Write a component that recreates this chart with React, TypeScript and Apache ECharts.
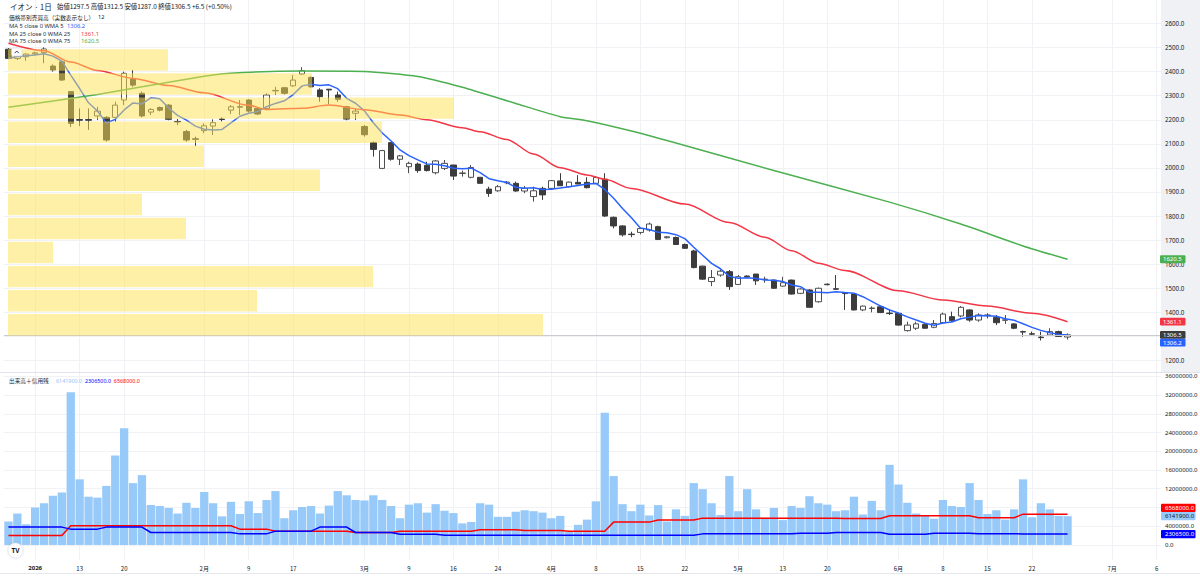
import React, { useEffect, useRef } from "react";
import * as echarts from "echarts";

// ---------- categories ----------
const tradingDates = [
  "2025-12-26", "2025-12-29", "2025-12-30",
  "2026-01-05", "2026-01-06", "2026-01-07", "2026-01-08", "2026-01-09", "2026-01-13", "2026-01-14", "2026-01-15", "2026-01-16",
  "2026-01-19", "2026-01-20", "2026-01-21", "2026-01-22", "2026-01-23", "2026-01-26", "2026-01-27", "2026-01-28", "2026-01-29", "2026-01-30",
  "2026-02-02", "2026-02-03", "2026-02-04", "2026-02-05", "2026-02-06", "2026-02-09", "2026-02-10", "2026-02-12", "2026-02-13",
  "2026-02-16", "2026-02-17", "2026-02-18", "2026-02-19", "2026-02-20", "2026-02-24", "2026-02-25", "2026-02-26", "2026-02-27",
  "2026-03-02", "2026-03-03", "2026-03-04", "2026-03-05", "2026-03-06", "2026-03-09", "2026-03-10", "2026-03-11", "2026-03-12", "2026-03-13",
  "2026-03-16", "2026-03-17", "2026-03-18", "2026-03-19", "2026-03-23", "2026-03-24", "2026-03-25", "2026-03-26", "2026-03-27", "2026-03-30", "2026-03-31",
  "2026-04-01", "2026-04-02", "2026-04-03", "2026-04-06", "2026-04-07", "2026-04-08", "2026-04-09", "2026-04-10", "2026-04-13", "2026-04-14",
  "2026-04-15", "2026-04-16", "2026-04-17", "2026-04-20", "2026-04-21", "2026-04-22", "2026-04-23", "2026-04-24", "2026-04-27", "2026-04-28", "2026-04-30",
  "2026-05-01", "2026-05-07", "2026-05-08", "2026-05-11", "2026-05-12", "2026-05-13", "2026-05-14", "2026-05-15", "2026-05-18", "2026-05-19",
  "2026-05-20", "2026-05-21", "2026-05-22", "2026-05-25", "2026-05-26", "2026-05-27", "2026-05-28", "2026-05-29",
  "2026-06-01", "2026-06-02", "2026-06-03", "2026-06-04", "2026-06-05", "2026-06-08", "2026-06-09", "2026-06-10", "2026-06-11", "2026-06-12",
  "2026-06-15", "2026-06-16", "2026-06-17", "2026-06-18", "2026-06-19", "2026-06-22", "2026-06-23", "2026-06-24", "2026-06-25", "2026-06-26",
];
const futureDates = [
  "2026-06-27", "2026-06-28", "2026-06-29", "2026-06-30", "2026-07-01",
  "2026-07-02", "2026-07-03", "2026-07-04", "2026-07-05", "2026-07-06",
];
const dates = tradingDates.concat(futureDates);

const tickDates = [
  "2026-01-05", "2026-01-13", "2026-01-20", "2026-02-02", "2026-02-09", "2026-02-17",
  "2026-03-02", "2026-03-09", "2026-03-16", "2026-03-24", "2026-04-01", "2026-04-08",
  "2026-04-15", "2026-04-22", "2026-05-01", "2026-05-13", "2026-05-20", "2026-06-01",
  "2026-06-08", "2026-06-15", "2026-06-22", "2026-07-01", "2026-07-06",
];
const tickTexts = [
  "2026", "13", "20", "2月", "9", "17", "3月", "9", "16", "24", "4月", "8",
  "15", "22", "5月", "13", "20", "6月", "8", "15", "22", "7月", "6",
];

// ---------- price series ----------
const opens = [
  2493, 2455, 2462, 2474, 2479, 2423, 2441, 2317, 2201, 2201,
  2216, 2210, 2210, 2282, 2369, 2310, 2232, 2251, 2261, 2193,
  2151, 2121, 2155, 2174, 2203, 2240, 2252, 2282, 2247, 2247,
  2320, 2333, 2341, 2390, 2376, 2324, 2327, 2303, 2254, 2227,
  2172, 2105, 1998, 2105, 2036, 2005, 2016, 2011, 1980, 1998,
  2012, 1977, 1961, 1961, 1912, 1905, 1938, 1936, 1904, 1881,
  1915, 1915, 1946, 1922, 1940, 1940, 1936, 1953, 1795, 1759,
  1725, 1732, 1742, 1756, 1710, 1711, 1682, 1655, 1592, 1528,
  1555, 1569, 1516, 1551, 1559, 1536, 1534, 1509, 1534, 1479,
  1493, 1444, 1517, 1498, 1479, 1476, 1410, 1416, 1423, 1397,
  1396, 1324, 1334, 1350, 1338, 1357, 1382, 1385, 1410, 1368,
  1389, 1379, 1367, 1352, 1320, 1311, 1297, 1306, 1320, 1297.5,
];
const highs = [
  2498, 2480, 2476, 2483, 2501, 2430, 2445, 2320, 2247, 2247,
  2254, 2215, 2275, 2400, 2407, 2317, 2248, 2255, 2265, 2203,
  2158, 2130, 2185, 2202, 2210, 2261, 2282, 2285, 2252, 2310,
  2337, 2337, 2386, 2418, 2380, 2331, 2328, 2317, 2258, 2247,
  2178, 2110, 2075, 2108, 2054, 2026, 2022, 2026, 2033, 2033,
  2013, 1989, 2012, 1962, 1922, 1929, 1946, 1943, 1925, 1922,
  1922, 1950, 1978, 1943, 1970, 1961, 1963, 1978, 1798, 1762,
  1735, 1752, 1773, 1760, 1717, 1715, 1686, 1660, 1594, 1576,
  1578, 1576, 1555, 1553, 1559, 1548, 1536, 1548, 1536, 1500,
  1496, 1503, 1520, 1555, 1480, 1478, 1428, 1425, 1428, 1413,
  1398, 1361, 1361, 1354, 1368, 1399, 1403, 1426, 1413, 1396,
  1396, 1389, 1389, 1355, 1324, 1320, 1320, 1334, 1324, 1312.5,
];
const lows = [
  2452, 2448, 2445, 2468, 2435, 2400, 2362, 2170, 2174, 2158,
  2199, 2110, 2192, 2261, 2337, 2210, 2220, 2235, 2198, 2178,
  2109, 2091, 2144, 2137, 2193, 2224, 2220, 2230, 2220, 2240,
  2303, 2305, 2337, 2386, 2333, 2275, 2265, 2275, 2198, 2199,
  2130, 2047, 1995, 2030, 2012, 1978, 1980, 1985, 1973, 1991,
  1950, 1964, 1957, 1935, 1880, 1901, 1932, 1901, 1895, 1860,
  1867, 1911, 1925, 1919, 1933, 1915, 1933, 1797, 1749, 1715,
  1712, 1724, 1735, 1700, 1707, 1680, 1664, 1583, 1535, 1509,
  1548, 1493, 1514, 1545, 1514, 1523, 1498, 1507, 1474, 1476,
  1420, 1440, 1512, 1493, 1410, 1408, 1405, 1400, 1397, 1389,
  1345, 1320, 1327, 1333, 1334, 1352, 1361, 1379, 1361, 1361,
  1375, 1347, 1352, 1330, 1299, 1302, 1283, 1302, 1298, 1287,
];
const closes = [
  2455, 2470, 2473, 2478, 2494, 2407, 2365, 2185, 2198, 2198,
  2236, 2116, 2261, 2393, 2344, 2216, 2243, 2240, 2202, 2191,
  2116, 2119, 2175, 2188, 2201, 2254, 2255, 2236, 2224, 2303,
  2322, 2310, 2365, 2404, 2337, 2296, 2324, 2285, 2203, 2236,
  2138, 2077, 2072, 2036, 2050, 2019, 1989, 1989, 2029, 2019,
  1966, 1979, 2002, 1936, 1894, 1922, 1941, 1904, 1915, 1905,
  1888, 1947, 1926, 1941, 1933, 1918, 1960, 1800, 1759, 1722,
  1723, 1748, 1767, 1703, 1714, 1682, 1666, 1586, 1538, 1545,
  1571, 1507, 1548, 1548, 1531, 1538, 1500, 1523, 1476, 1497,
  1421, 1500, 1515, 1496, 1478, 1410, 1426, 1418, 1399, 1395,
  1347, 1347, 1352, 1334, 1354, 1393, 1365, 1421, 1368, 1389,
  1386, 1357, 1369, 1334, 1318, 1309.5, 1295, 1320, 1300, 1306.5,
];

// MA25 / MA75 at these bar indexes
const ma25Idx = [0, 4, 7, 10, 14, 18, 22, 27, 29, 33, 36, 40, 44, 47, 51, 53, 56, 59, 62, 65, 67, 70, 76, 81, 85, 88, 91, 94, 100, 105, 110, 115, 119];
const ma25Val = [2518, 2487, 2440, 2405, 2372, 2342, 2312, 2260, 2243, 2248, 2261, 2242, 2220, 2200, 2167, 2150, 2118, 2058, 2001, 1971, 1953, 1915, 1850, 1773, 1712, 1656, 1604, 1574, 1490, 1451, 1426, 1396, 1361.1];
const ma75Idx = [0, 10, 21, 25, 33, 40, 46, 51, 57, 62, 65, 70, 76, 86, 99, 107, 114, 119];
const ma75Val = [2252, 2305, 2375, 2393, 2403, 2401, 2380, 2335, 2268, 2213, 2196, 2153, 2093, 1989, 1858, 1767, 1676, 1620.5];

// volume profile (価格帯別売買高), 12 rows, volume in millions
const profileEdges = [2493, 2393, 2293, 2193, 2093, 1993, 1893, 1793, 1693, 1593, 1493, 1393, 1293];
const profileVolume = [16.0, 30.4, 44.6, 37.4, 19.6, 31.2, 13.4, 17.8, 4.5, 36.5, 24.9, 53.5];

// ---------- volume pane (millions) ----------
const volumes = [
  5.0, 6.7, 4.4, 8.0, 8.9, 10.5, 11.2, 32.6, 14.0, 10.3,
  10.1, 12.6, 19.1, 24.9, 13.2, 14.9, 8.5, 8.3, 7.9, 6.7,
  9.0, 7.9, 11.3, 8.9, 6.1, 9.2, 6.6, 9.3, 6.8, 9.6,
  11.5, 5.7, 7.4, 8.1, 8.3, 6.7, 8.4, 11.5, 10.6, 9.6,
  9.5, 10.6, 9.6, 8.3, 5.7, 8.6, 8.9, 6.9, 8.7, 7.3,
  6.8, 4.6, 4.9, 8.9, 8.6, 6.0, 6.0, 7.1, 7.4, 7.2,
  6.9, 5.7, 6.2, 2.8, 4.3, 5.4, 9.3, 28.2, 14.7, 8.7,
  7.2, 8.6, 6.3, 8.5, 5.0, 7.6, 6.2, 13.2, 11.9, 8.9,
  6.4, 14.7, 7.2, 11.9, 7.6, 5.8, 7.9, 5.3, 8.3, 7.9,
  10.4, 8.9, 8.6, 7.2, 7.4, 10.3, 6.5, 9.4, 7.4, 17.1,
  12.9, 9.0, 6.7, 6.2, 5.6, 9.6, 8.3, 8.1, 13.2, 9.6,
  6.6, 7.4, 5.4, 7.6, 14.0, 5.9, 8.9, 7.6, 6.2, 6.1419,
];
// 信用買残 (red)
const marginBuy = [
  2.0, 2.0, 2.0, 2.0, 2.0, 2.0, 2.0, 4.08, 4.08, 4.08,
  4.08, 4.08, 4.08, 4.08, 4.08, 4.08, 4.08, 4.08, 4.08, 4.08,
  4.08, 4.08, 4.08, 4.08, 4.08, 4.08, 3.37, 3.37, 3.37, 3.37,
  2.94, 2.94, 2.94, 2.94, 2.94, 2.94, 2.94, 2.94, 2.94, 2.65,
  2.65, 2.65, 2.65, 2.65, 2.94, 2.94, 2.94, 2.94, 2.94, 2.94,
  2.94, 2.94, 2.94, 3.22, 3.22, 3.22, 3.22, 3.22, 3.08, 3.08,
  3.08, 3.08, 3.08, 2.94, 2.94, 2.94, 2.94, 2.94, 4.87, 4.87,
  4.87, 4.87, 4.87, 5.3, 5.3, 5.3, 5.3, 5.3, 5.72, 5.72,
  5.72, 5.72, 5.72, 5.72, 5.72, 5.72, 5.72, 5.72, 5.72, 5.72,
  5.72, 5.72, 5.72, 5.72, 5.65, 5.65, 5.65, 5.65, 5.65, 6.23,
  6.23, 6.23, 6.23, 6.23, 6.23, 6.23, 6.23, 6.23, 6.23, 5.8,
  5.8, 5.8, 5.8, 5.8, 6.568, 6.568, 6.568, 6.568, 6.568, 6.568,
];
// 信用売残 (blue)
const marginSell = [
  3.8, 3.8, 3.8, 3.8, 3.8, 3.8, 3.8, 3.37, 3.37, 3.37,
  3.37, 3.8, 3.8, 3.8, 3.8, 3.8, 2.65, 2.65, 2.65, 2.65,
  2.65, 2.65, 2.65, 2.65, 2.65, 2.65, 2.36, 2.36, 2.36, 2.36,
  2.94, 2.94, 2.94, 2.94, 2.94, 3.8, 3.8, 3.8, 3.8, 2.65,
  2.65, 2.65, 2.65, 2.65, 2.3, 2.3, 2.3, 2.3, 2.3, 2.08,
  2.08, 2.08, 2.08, 2.08, 2.08, 2.08, 2.08, 2.08, 2.08, 2.08,
  2.08, 2.08, 2.08, 2.08, 2.08, 2.08, 2.08, 2.08, 2.08, 2.08,
  2.08, 2.08, 2.08, 2.08, 2.08, 2.08, 2.08, 2.08, 2.36, 2.36,
  2.36, 2.36, 2.36, 2.36, 2.36, 2.36, 2.36, 2.36, 2.36, 2.5,
  2.5, 2.5, 2.5, 2.65, 2.65, 2.65, 2.65, 2.65, 2.65, 2.3,
  2.3, 2.3, 2.3, 2.3, 2.5, 2.5, 2.5, 2.5, 2.5, 2.4,
  2.4, 2.4, 2.4, 2.4, 2.3065, 2.3065, 2.3065, 2.3065, 2.3065, 2.3065,
];

// price grid lines every 100; the 1300 label sits under the last-price tags, so it is not printed
const priceGridValues = [1200, 1300, 1400, 1500, 1600, 1700, 1800, 1900, 2000, 2100, 2200, 2300, 2400, 2500, 2600];
const priceLabelValues = [1200, 1400, 1500, 1600, 1700, 1800, 1900, 2000, 2100, 2200, 2300, 2400, 2500, 2600];
const volumeTicks = [0, 4, 8, 12, 16, 20, 24, 28, 32, 36];

// ---------- styling ----------
const FONT = '"Noto Sans", "Noto Sans CJK JP", sans-serif';
const CJK = '"Noto Sans CJK JP", "Noto Sans", sans-serif';
const TXT = "#131722";
const GRIDLINE = "#f0f2f6";
const C_UP_BORDER = "#4e4e4e";
const C_DOWN = "#3c3c3c";
const C_MA5 = "#2962ff";
const C_MA25 = "#f23645";
const C_MA75 = "#4caf50";
const C_VOL = "#97c9f9";
const C_BUY = "#ff0000";
const C_SELL = "#0000ff";

const PRICE_MIN = 1152.2;
const PRICE_MAX = 2697.6;
const VOL_MIN = -3.22;
const VOL_MAX = 36.71;

const tickSet: Record<string, string> = {};
tickDates.forEach((d, k) => (tickSet[d] = tickTexts[k]));
const isTick = (_i: number, v: string) => tickSet[v] !== undefined;

const ma5 = closes.map((_, i) => {
  const s = closes.slice(Math.max(0, i - 4), i + 1);
  return +(s.reduce((a, b) => a + b, 0) / s.length).toFixed(2);
});

function buildOption(): any {
  const n = tradingDates.length;
  const last = n - 1;
  return {
    animation: false,
    backgroundColor: "#ffffff",
    textStyle: { fontFamily: FONT },
    grid: [
      { left: 4, top: 0, width: 1157, height: 372, outerBoundsMode: "none" },
      { left: 4, top: 373, width: 1157, height: 187, outerBoundsMode: "none" },
      { left: 8, top: 0, width: 1153, height: 372, outerBoundsMode: "none" },
    ],
    xAxis: [
      {
        type: "category", gridIndex: 0, data: dates, boundaryGap: true,
        axisLine: { show: false }, axisTick: { show: false }, axisLabel: { show: false },
        splitLine: { show: true, interval: isTick, alignWithLabel: true, lineStyle: { color: GRIDLINE, width: 1 } },
      },
      {
        type: "category", gridIndex: 1, data: dates, boundaryGap: true,
        axisLine: { show: false }, axisTick: { show: false },
        axisLabel: {
          show: true, interval: isTick, margin: 5, fontSize: 6, color: TXT, fontFamily: CJK,
          formatter: (v: string) => {
            const t = tickSet[v];
            if (t === undefined) return "";
            return /^\d{4}$/.test(t) ? `{b|${t}}` : t;
          },
          rich: { b: { fontWeight: "bold", fontSize: 6, color: TXT, fontFamily: FONT } },
        },
        splitLine: { show: true, interval: isTick, alignWithLabel: true, lineStyle: { color: GRIDLINE, width: 1 } },
      },
      { type: "value", gridIndex: 2, min: 0, max: 115.3, show: false },
    ],
    yAxis: [
      {
        type: "value", gridIndex: 0, position: "right", min: PRICE_MIN, max: PRICE_MAX, scale: true,
        axisLine: { show: false },
        axisTick: { show: false, customValues: priceGridValues },
        axisLabel: { customValues: priceLabelValues, margin: 4, fontSize: 6.2, color: TXT, formatter: (v: number) => v.toFixed(1) },
        splitLine: { show: true, lineStyle: { color: GRIDLINE, width: 1 } },
      },
      {
        type: "value", gridIndex: 1, position: "right", min: VOL_MIN, max: VOL_MAX,
        axisLine: { show: false },
        axisTick: { show: false, customValues: volumeTicks },
        axisLabel: { customValues: volumeTicks, margin: 4, fontSize: 6, color: TXT, formatter: (v: number) => (v * 1000000).toFixed(1) },
        splitLine: { show: true, lineStyle: { color: GRIDLINE, width: 1 } },
      },
      { type: "value", gridIndex: 2, min: PRICE_MIN, max: PRICE_MAX, show: false },
    ],
    series: [
      {
        type: "candlestick", xAxisIndex: 0, yAxisIndex: 0, z: 2, barWidth: "66%",
        data: opens.map((o, i) => [o, closes[i], lows[i], highs[i]]),
        itemStyle: { color: "#ffffff", color0: C_DOWN, borderColor: C_UP_BORDER, borderColor0: C_DOWN, borderWidth: 1 },
        markLine: {
          silent: true, symbol: "none", label: { show: false },
          lineStyle: { color: "#c9cbd1", width: 1, type: "solid" },
          data: [{ yAxis: closes[last] }],
        },
      },
      {
        type: "line", xAxisIndex: 0, yAxisIndex: 0, z: 3, data: ma5, showSymbol: false, symbol: "none",
        lineStyle: { color: C_MA5, width: 1.5 }, smooth: false,
      },
      {
        type: "line", xAxisIndex: 0, yAxisIndex: 0, z: 3, symbol: "none", showSymbol: false,
        data: ma25Idx.map((k, j) => [k, ma25Val[j]]), smooth: 0.3, smoothMonotone: "x",
        lineStyle: { color: C_MA25, width: 1.5 },
      },
      {
        type: "line", xAxisIndex: 0, yAxisIndex: 0, z: 3, symbol: "none", showSymbol: false,
        data: ma75Idx.map((k, j) => [k, ma75Val[j]]), smooth: 0.2,
        lineStyle: { color: C_MA75, width: 1.5 },
      },
      {
        type: "custom", xAxisIndex: 2, yAxisIndex: 2, z: 6, silent: true,
        data: profileVolume.map((v, k) => [v, profileEdges[k], profileEdges[k + 1]]),
        encode: { x: 0, y: [1, 2] },
        renderItem: (_p: any, api: any) => {
          const p0 = api.coord([0, api.value(1)]);
          const p1 = api.coord([api.value(0), api.value(2)]);
          return {
            type: "rect",
            shape: { x: p0[0], y: p0[1], width: p1[0] - p0[0], height: p1[1] - p0[1] - 2.6 },
            style: { fill: "rgba(255, 226, 80, 0.5)" },
          };
        },
      },
      {
        type: "bar", xAxisIndex: 1, yAxisIndex: 1, z: 2, data: volumes, barWidth: "93%",
        itemStyle: { color: C_VOL }, clip: false,
      },
      {
        type: "line", xAxisIndex: 1, yAxisIndex: 1, z: 3, data: marginBuy, symbol: "none", showSymbol: false,
        lineStyle: { color: C_BUY, width: 1.5 },
      },
      {
        type: "line", xAxisIndex: 1, yAxisIndex: 1, z: 3, data: marginSell, symbol: "none", showSymbol: false,
        lineStyle: { color: C_SELL, width: 1.5 },
      },
    ],
  };
}

type Tag = { value: number; y: number; fixed: boolean; bg: string; fg: string; text: string };

function layoutTags(tags: Tag[], h: number) {
  const placed: Tag[] = tags.filter((t) => t.fixed);
  tags.filter((t) => !t.fixed).forEach((t) => {
    let y = t.y;
    placed.forEach((p) => {
      if (Math.abs(y - p.y) < h) y = t.value < p.value ? p.y + h : p.y - h;
    });
    t.y = y;
    placed.push(t);
  });
}

function buildGraphics(chart: any): any[] {
  const n = tradingDates.length;
  const last = n - 1;
  const py = (v: number) => chart.convertToPixel({ yAxisIndex: 0 }, v) as number;
  const vy = (v: number) => chart.convertToPixel({ yAxisIndex: 1 }, v) as number;
  const ma25Last = ma25Val[ma25Val.length - 1];
  const ma75Last = ma75Val[ma75Val.length - 1];
  const ma5Last = ma5[last];
  const c = closes[last];
  const prev = closes[last - 1];
  const chg = c - prev;
  const pct = (chg / prev) * 100;
  const sign = chg >= 0 ? "+" : "";

  const priceTags: Tag[] = [
    { value: c, y: py(c), fixed: true, bg: "#3c3c3c", fg: "#ffffff", text: c.toFixed(1) },
    { value: ma5Last, y: py(ma5Last), fixed: false, bg: C_MA5, fg: "#ffffff", text: ma5Last.toFixed(1) },
    { value: ma25Last, y: py(ma25Last), fixed: false, bg: C_MA25, fg: "#ffffff", text: ma25Last.toFixed(1) },
    { value: ma75Last, y: py(ma75Last), fixed: false, bg: C_MA75, fg: "#ffffff", text: ma75Last.toFixed(1) },
  ];
  layoutTags(priceTags, 7.8);
  const vLast = volumes[last], bLast = marginBuy[last], sLast = marginSell[last];
  const volTags: Tag[] = [
    { value: vLast, y: vy(vLast), fixed: true, bg: C_VOL, fg: TXT, text: (vLast * 1e6).toFixed(1) },
    { value: bLast, y: vy(bLast), fixed: false, bg: C_BUY, fg: "#ffffff", text: (bLast * 1e6).toFixed(1) },
    { value: sLast, y: vy(sLast), fixed: false, bg: C_SELL, fg: "#ffffff", text: (sLast * 1e6).toFixed(1) },
  ];
  layoutTags(volTags, 8.2);

  const els: any[] = [];
  // price-axis background
  els.push({ type: "rect", z: -10, silent: true, shape: { x: 1161, y: 0, width: 39, height: 372 }, style: { fill: "#eff1f5" } });
  // pane separators
  els.push({ type: "line", z: 50, silent: true, shape: { x1: 0, y1: 372.5, x2: 1200, y2: 372.5 }, style: { stroke: "#e0e3eb", lineWidth: 1 } });
  els.push({ type: "line", z: 50, silent: true, shape: { x1: 0, y1: 573.5, x2: 1200, y2: 573.5 }, style: { stroke: "#e6e8ee", lineWidth: 1 } });

  priceTags.forEach((t) => {
    els.push({ type: "rect", z: 60, silent: true, shape: { x: 1160, y: t.y - 3.9, width: 25.5, height: 7.8, r: 1 }, style: { fill: t.bg } });
    els.push({ type: "text", z: 61, silent: true, x: 1163, y: t.y, style: { text: t.text, fill: t.fg, fontSize: 6, fontFamily: FONT, verticalAlign: "middle" } });
  });
  volTags.forEach((t) => {
    els.push({ type: "rect", z: 60, silent: true, shape: { x: 1161, y: t.y - 4.1, width: 34.5, height: 8.2, r: 1 }, style: { fill: t.bg } });
    els.push({ type: "text", z: 61, silent: true, x: 1165, y: t.y, style: { text: t.text, fill: t.fg, fontSize: 6, fontFamily: FONT, verticalAlign: "middle" } });
  });

  // header
  els.push({ type: "text", z: 70, silent: true, x: 10, y: 6.8, style: { text: "イオン · 1日", fill: TXT, fontSize: 7.5, fontFamily: CJK, verticalAlign: "middle" } });
  els.push({
    type: "text", z: 70, silent: true, x: 57, y: 6.8,
    style: {
      text: `始値${opens[last].toFixed(1)} 高値${highs[last].toFixed(1)} 安値${lows[last].toFixed(1)} 終値${c.toFixed(1)} ${sign}${chg.toFixed(1)} (${sign}${pct.toFixed(2)}%)`,
      fill: TXT, fontSize: 6.4, fontFamily: CJK, verticalAlign: "middle",
    },
  });
  els.push({ type: "text", z: 70, silent: true, x: 9, y: 17.3, style: { text: "価格帯別売買高（実数表示なし）", fill: TXT, fontSize: 5.7, fontFamily: CJK, verticalAlign: "middle" } });
  els.push({ type: "text", z: 70, silent: true, x: 98, y: 17.3, style: { text: String(profileVolume.length), fill: TXT, fontSize: 5.7, fontFamily: FONT, verticalAlign: "middle" } });
  const maRows = [
    { label: "MA 5 close 0 WMA 5", val: ma5Last, color: C_MA5, y: 26, vx: 67 },
    { label: "MA 25 close 0 WMA 25", val: ma25Last, color: C_MA25, y: 33.7, vx: 81 },
    { label: "MA 75 close 0 WMA 75", val: ma75Last, color: C_MA75, y: 41.3, vx: 81 },
  ];
  maRows.forEach((r) => {
    els.push({ type: "text", z: 70, silent: true, x: 9, y: r.y, style: { text: r.label, fill: "#2a2e39", fontSize: 5.8, fontFamily: FONT, verticalAlign: "middle" } });
    els.push({ type: "text", z: 70, silent: true, x: r.vx, y: r.y, style: { text: r.val.toFixed(1), fill: r.color, fontSize: 5.8, fontFamily: FONT, verticalAlign: "middle" } });
  });
  // collapse button
  els.push({ type: "rect", z: 70, silent: true, shape: { x: 11.5, y: 48, width: 10.5, height: 8, r: 1.5 }, style: { fill: "#ffffff", stroke: "#d1d4dc", lineWidth: 0.6 } });
  els.push({ type: "polyline", z: 71, silent: true, shape: { points: [[14.7, 53.2], [16.75, 51], [18.8, 53.2]] }, style: { stroke: "#131722", lineWidth: 0.8, fill: null } });

  // volume legend
  els.push({ type: "text", z: 70, silent: true, x: 9, y: 380.7, style: { text: "出来高＋信用残", fill: "#2a2e39", fontSize: 5.7, fontFamily: CJK, verticalAlign: "middle" } });
  els.push({
    type: "text", z: 70, silent: true, x: 56, y: 380.7,
    style: {
      text: `{a|${(vLast * 1e6).toFixed(1)}}  {b|${(sLast * 1e6).toFixed(1)}}  {c|${(bLast * 1e6).toFixed(1)}}`,
      fontSize: 5.4, fontFamily: FONT, verticalAlign: "middle",
      rich: {
        a: { fill: "#8fc3f5", fontSize: 5.4, fontFamily: FONT },
        b: { fill: C_SELL, fontSize: 5.4, fontFamily: FONT },
        c: { fill: C_BUY, fontSize: 5.4, fontFamily: FONT },
      },
    },
  });

  // TradingView logo
  els.push({ type: "circle", z: 70, silent: true, shape: { cx: 15.5, cy: 550.5, r: 7.5 }, style: { fill: "#ffffff", stroke: "#e0e3eb", lineWidth: 0.6, shadowBlur: 2, shadowColor: "rgba(0,0,0,0.15)" } });
  els.push({ type: "text", z: 71, silent: true, x: 15.5, y: 550.8, style: { text: "TV", fill: "#131722", fontSize: 6.5, fontWeight: "bold", fontFamily: FONT, align: "center", verticalAlign: "middle" } });
  return els;
}

export default function App() {
  const ref = useRef<HTMLDivElement | null>(null);
  useEffect(() => {
    document.body.style.margin = "0";
    const el = ref.current as HTMLDivElement;
    const chart = echarts.init(el, null, { renderer: "svg", width: 1200, height: 581 });
    chart.setOption(buildOption());
    chart.setOption({ graphic: { elements: buildGraphics(chart) } });
    return () => {
      chart.dispose();
    };
  }, []);
  return <div ref={ref} style={{ width: 1200, height: 581, overflow: "hidden" }} />;
}
